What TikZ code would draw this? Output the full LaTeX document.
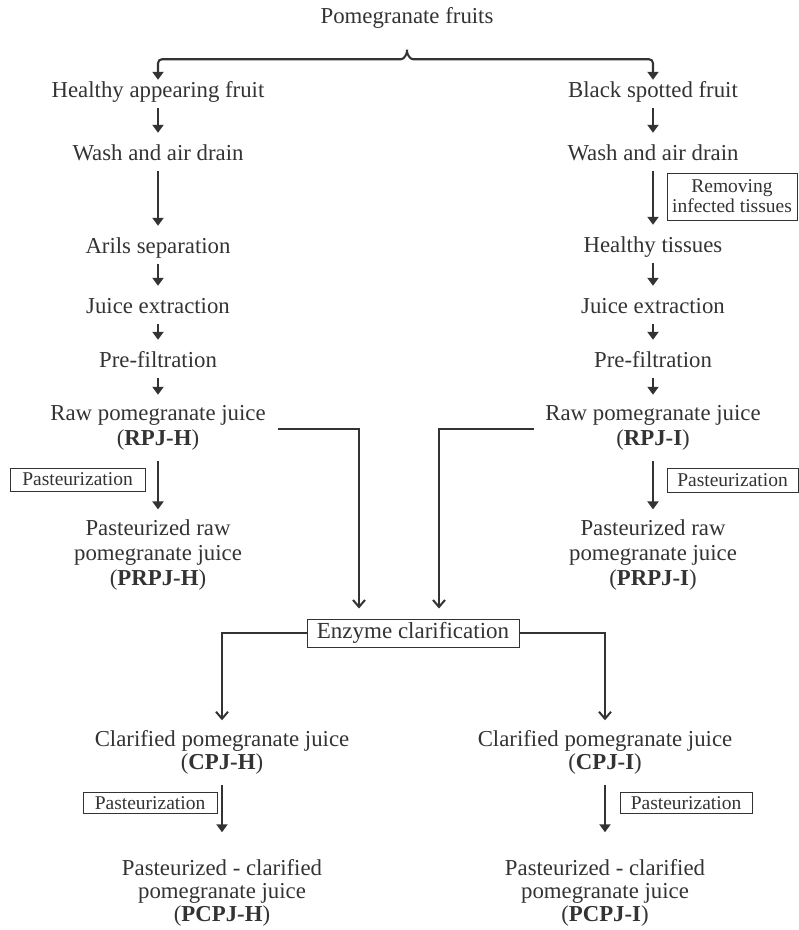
\documentclass[tikz,border=0pt]{standalone}
\usepackage{fontspec}
\setmainfont{Liberation Serif}
\usetikzlibrary{arrows.meta,calc}
\definecolor{ink}{HTML}{333333}
\newcommand{\tstrut}{\rule[-7pt]{0pt}{24pt}}

\begin{document}
\begin{tikzpicture}[x=1pt, y=-1pt,
    stage/.style={inner sep=0pt, align=center, text=ink,
      font=\fontsize{22.8}{25}\selectfont,
      execute at begin node=\tstrut, execute at end node=\tstrut},
    lowstage/.style={stage, font=\fontsize{22.8}{23}\selectfont},
    procbox/.style={draw=ink, line width=1pt, inner sep=0pt, text=ink,
      align=center, font=\fontsize{19.5}{20}\selectfont},
    flow/.style={draw=ink, line width=2.1pt,
      -{Triangle[width=11pt,length=8pt]}, shorten <=4pt, shorten >=10pt},
    merge/.style={draw=ink, line width=2pt,
      -{Straight Barb[width=12pt,length=7pt]}, shorten >=10pt}]

    \useasboundingbox (0,0) rectangle (799,930);

    % top
    \node[stage] (fruits) at (407,18) {Pomegranate fruits};

    % healthy appearing fruit (left column)
    \node[stage] (healthy) at (158,92) {Healthy appearing fruit};
    \node[stage] (washL) at (158,155) {Wash and air drain};
    \node[stage] (arils) at (158,248) {Arils separation};
    \node[stage] (juiceL) at (158,308) {Juice extraction};
    \node[stage] (preL) at (158,362) {Pre-filtration};
    \node[stage] (rawL) at (158,428.5) {Raw pomegranate juice\\(\textbf{RPJ-H})};
    \node[stage] (prawL) at (158,556) {Pasteurized raw\\pomegranate juice\\(\textbf{PRPJ-H})};

    % black spotted fruit (right column)
    \node[stage] (spotted) at (653,92) {Black spotted fruit};
    \node[stage] (washR) at (653,155) {Wash and air drain};
    \node[stage] (tissues) at (653,247) {Healthy tissues};
    \node[stage] (juiceR) at (653,308) {Juice extraction};
    \node[stage] (preR) at (653,362) {Pre-filtration};
    \node[stage] (rawR) at (653,428.5) {Raw pomegranate juice\\(\textbf{RPJ-I})};
    \node[stage] (prawR) at (653,556) {Pasteurized raw\\pomegranate juice\\(\textbf{PRPJ-I})};

    % clarification
    \node[procbox, font=\fontsize{23}{24}\selectfont, minimum width=212pt,
      minimum height=28pt] (enzyme) at (413,633) {Enzyme clarification};
    \node[lowstage] (cpjL) at (222,753.5) {Clarified pomegranate juice\\(\textbf{CPJ-H})};
    \node[lowstage] (pcpjL) at (222,894) {Pasteurized - clarified\\pomegranate juice\\(\textbf{PCPJ-H})};
    \node[lowstage] (cpjR) at (605,753.5) {Clarified pomegranate juice\\(\textbf{CPJ-I})};
    \node[lowstage] (pcpjR) at (605,894) {Pasteurized - clarified\\pomegranate juice\\(\textbf{PCPJ-I})};

    % side boxes
    \node[procbox, minimum width=130pt, minimum height=47pt] (remove) at (732,196.5) {Removing\\infected tissues};
    \node[procbox, minimum width=135pt, minimum height=23pt] (pastA) at (77.5,479.5) {Pasteurization};
    \node[procbox, minimum width=131pt, minimum height=24pt] (pastB) at (732.5,480) {Pasteurization};
    \node[procbox, minimum width=134pt, minimum height=21pt] (pastC) at (150,803) {Pasteurization};
    \node[procbox, minimum width=132pt, minimum height=21pt] (pastD) at (686,803) {Pasteurization};

    % brace from the fruits
    \draw[draw=ink, line width=2.1pt, rounded corners=4pt,
      {Triangle[width=11pt,length=8pt]}-{Triangle[width=11pt,length=8pt]}]
      (healthy.north) |- ($(fruits.south)+(-10,29)$)
      .. controls ($(fruits.south)+(-3,29)$) and ($(fruits.south)+(0,24)$) .. ($(fruits.south)+(0,17)$)
      .. controls ($(fruits.south)+(0,24)$) and ($(fruits.south)+(3,29)$) .. ($(fruits.south)+(10,29)$)
      -| (spotted.north);

    % left chain
    \draw[flow] (healthy) -- (washL);
    \draw[flow] (washL) -- (arils);
    \draw[flow] (arils) -- (juiceL);
    \draw[flow] (juiceL) -- (preL);
    \draw[flow] (preL) -- (rawL);
    \draw[flow, shorten <=9pt] (rawL) -- (prawL);

    % right chain
    \draw[flow] (spotted) -- (washR);
    \draw[flow] (washR) -- (tissues);
    \draw[flow] (tissues) -- (juiceR);
    \draw[flow] (juiceR) -- (preR);
    \draw[flow] (preR) -- (rawR);
    \draw[flow, shorten <=9pt] (rawR) -- (prawR);

    % to and from the clarification
    \draw[merge, shorten <=12pt] (rawL.east) -| ([xshift=-54pt]enzyme.north);
    \draw[merge, shorten <=11pt] (rawR.west) -| ([xshift=26pt]enzyme.north);
    \draw[merge] (enzyme.west) -| (cpjL.north);
    \draw[merge] (enzyme.east) -| (cpjR.north);

    % pasteurization of clarified juice
    \draw[flow, shorten <=8pt, shorten >=27pt] (cpjL) -- (pcpjL);
    \draw[flow, shorten <=8pt, shorten >=27pt] (cpjR) -- (pcpjR);

\end{tikzpicture}
\end{document}
